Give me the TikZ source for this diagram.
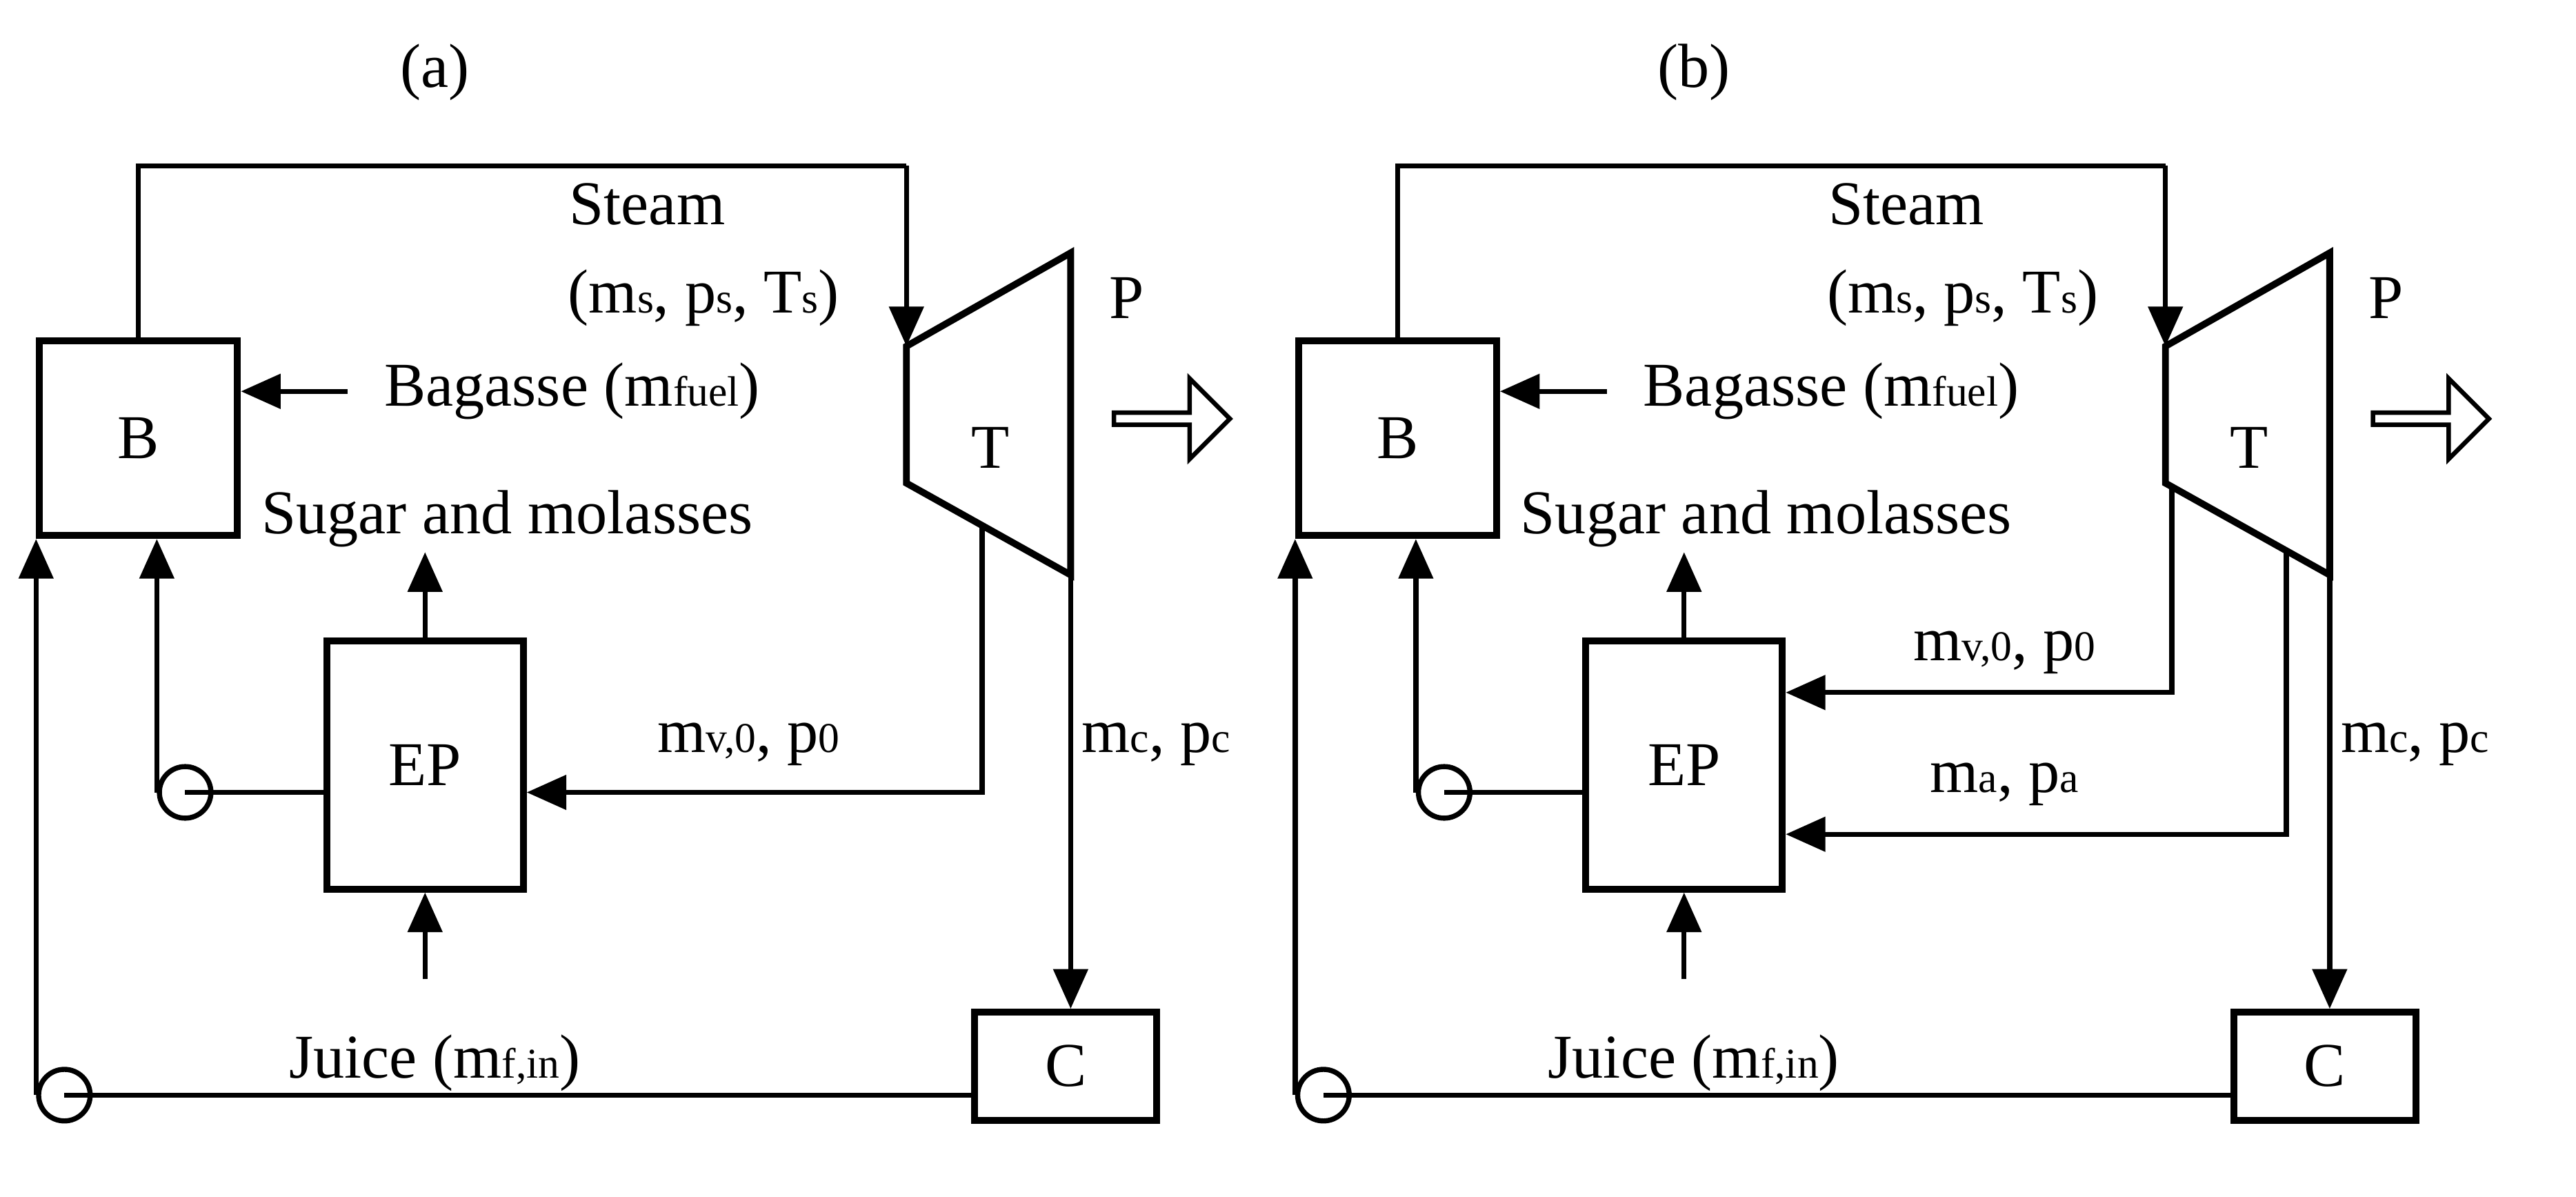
\documentclass[tikz,border=0pt]{standalone}
\usepackage{fontspec}
\setmainfont{Liberation Serif}
\usetikzlibrary{arrows.meta,shapes.arrows}
\newcommand{\sub}[1]{{\fontsize{7.5pt}{8pt}\selectfont #1}}
\tikzset{
  box/.style={draw, line width=1.2pt, inner sep=0pt, font=\fontsize{11pt}{11pt}\selectfont},
  flow/.style={line width=0.9pt, -{Triangle[length=7pt,width=6pt]}},
  line/.style={line width=0.9pt},
  lbl/.style={font=\fontsize{11pt}{11pt}\selectfont, inner sep=0pt},
  pump/.style={draw, circle, line width=0.9pt, minimum size=0.32cm, inner sep=0pt},
}
\begin{document}
\begin{tikzpicture}[x=0.01cm,y=-0.01cm]
\useasboundingbox (0,0) rectangle (1600,743);
\foreach \p/\o/\tag in {a/0/(a),b/782/(b)}{
\begin{scope}[xshift=\o*0.01cm]
\node[lbl] at (270,45) {\tag};
\node[box, minimum width=1.23cm, minimum height=1.21cm] (\p B) at (86,272) {B};
\node[box, minimum width=1.22cm, minimum height=1.54cm] (\p EP) at (264,475) {EP};
\node[box, minimum width=1.13cm, minimum height=0.67cm] (\p C) at (662,662) {C};
\draw[line width=1.2pt] (563,215) coordinate (\p Tin) -- (665,157) -- (665,357) coordinate (\p Tout) -- (563,300) -- cycle;
\node[box, draw=none] (\p T) at (615,278) {T};
\node[lbl] at (402,127) {Steam};
\node[lbl] at (437,185) {(m\sub{s}, p\sub{s}, T\sub{s})};
\node[lbl, anchor=west] (\p bag) at (238,243) {Bagasse (m\sub{fuel})};
\node[lbl] at (315,322) {Sugar and molasses};
\node[lbl] at (270,660) {Juice (m\sub{f,in})};
\node[lbl] at (700,185) {P};
\node[draw, single arrow, line width=0.8pt, minimum height=0.72cm, minimum width=0.5cm,
      single arrow head extend=0.08cm, inner sep=0pt] at (726,260) {};
\node[lbl] at (718,462) {m\sub{c}, p\sub{c}};
\node[pump] (\p P1) at (115,492) {};
\node[pump] (\p P2) at (40,680) {};
\draw[line] (\p B.north) |- (563,103) coordinate (\p k);
\draw[flow] (\p k) -- (\p Tin);
\draw[flow] (\p bag.west) ++(-22,0) coordinate (\p bs) -- (\p bs -| \p B.east);
\draw[flow] (\p EP.north) -- ++(0,-53);
\draw[flow] (264,608) coordinate (\p js) -- (\p EP.south);
\draw[line] (\p P1.center) -- (\p P1 -| \p EP.west);
\draw[flow] (\p P1.west) -- (\p P1.west |- \p B.south);
\draw[line] (\p P2.center) -- (\p P2 -| \p C.west);
\draw[flow] (\p P2.west) -- (\p P2.west |- \p B.south);
\draw[flow] (\p Tout) -- (\p Tout |- \p C.north);
\end{scope}}
% panel (a) extraction
\draw[flow] (610,327) |- (aEP.east |- 0,492);
\node[lbl] at (465,462) {m\sub{v,0}, p\sub{0}};
% panel (b) extractions
\begin{scope}[xshift=782*0.01cm]
\draw[flow] (567,302) |- (bEP.east |- 0,430);
\node[lbl] at (463,405) {m\sub{v,0}, p\sub{0}};
\draw[flow] (638,342) |- (bEP.east |- 0,518);
\node[lbl] at (463,487) {m\sub{a}, p\sub{a}};
\end{scope}
\end{tikzpicture}
\end{document}
